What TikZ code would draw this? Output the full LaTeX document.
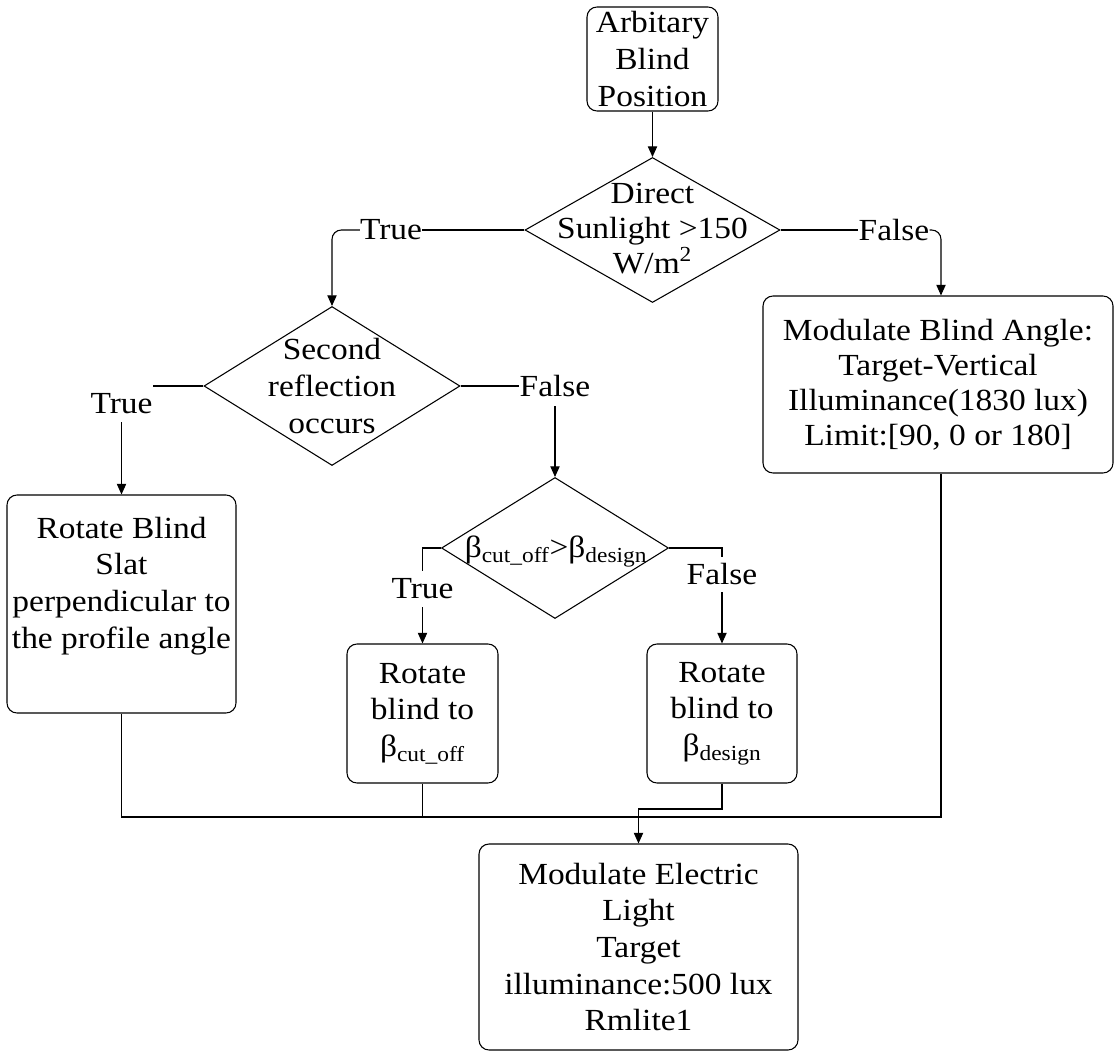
\documentclass[tikz,border=0pt]{standalone}
\usepackage{fontspec}
\setmainfont{Liberation Serif}[FakeStretch=1.09]
\usetikzlibrary{arrows.meta,shapes.geometric}
\begin{document}
\begin{tikzpicture}[x=0.75pt,y=-0.75pt,
  every node/.style={font=\fontsize{23}{27.5}\selectfont},
  box/.style={draw, line width=0.8pt, rounded corners=7.5pt, align=center, inner sep=0pt},
  dia/.style={draw, diamond, line width=0.8pt, inner sep=0pt},
  txt/.style={align=center, inner sep=0pt},
  lbl/.style={inner sep=0pt},
  conn/.style={line width=0.8pt},
  arr/.style={conn, -{Triangle[length=8pt,width=7pt]}},
]
\useasboundingbox (0,0) rectangle (1115,1052);

% boxes
\node[box, minimum width=98.25pt, minimum height=78pt, font=\fontsize{23}{28}\selectfont] (start) at (652.5,59) {Arbitary\\Blind\\Position};
\node[dia, minimum width=191.25pt, minimum height=108.75pt] (d1) at (652.5,230) {};
\node[txt, font=\fontsize{23}{26.25}\selectfont] (d1t) at (652.5,229) {Direct\\Sunlight >150\\W/m\textsuperscript{2}};
\node[dia, minimum width=192pt, minimum height=119.25pt] (d2) at (332,386) {};
\node[txt, font=\fontsize{23}{28}\selectfont] (d2t) at (332,386) {Second\\reflection\\occurs};
\node[dia, minimum width=170.25pt, minimum height=105.75pt] (d3) at (555,548) {};
\node[txt] (d3t) at (556,552) {β\textsubscript{cut\_off}>β\textsubscript{design}};
\node[box, minimum width=262.5pt, minimum height=132.75pt, font=\fontsize{23}{26.25}\selectfont] (rba) at (938,384.5) {Modulate Blind Angle:\\Target-Vertical\\Illuminance(1830 lux)\\Limit:[90, 0 or 180]};
\node[box, minimum width=171.75pt, minimum height=163.5pt] (rb) at (121.5,604) {Rotate Blind\\Slat\\perpendicular to\\the profile angle\rule[-32pt]{0pt}{0pt}};
\node[box, minimum width=113.25pt, minimum height=104.25pt] (rbc) at (422.5,713.5) {Rotate\\blind to\\β\textsubscript{cut\_off}};
\node[box, minimum width=112.5pt, minimum height=104.25pt] (rbd) at (722,713.5) {Rotate\\blind to\\β\textsubscript{design}};
\node[box, minimum width=239.25pt, minimum height=154.5pt] (mel) at (638.5,947) {Modulate Electric\\Light\\Target\\illuminance:500 lux\\Rmlite1};

% labels
\node[lbl] (lT1) at (391,230) {True};
\node[lbl] (lF1) at (894,230) {False};
\node[lbl, minimum height=27pt] (lT2) at (121.5,404) {True};
\node[lbl, minimum height=30pt] (lF2) at (555,386) {False};
\node[lbl, minimum height=27pt] (lT3) at (422.5,589) {True};
\node[lbl, minimum height=26.25pt] (lF3) at (722,574.5) {False};

% junction points
\coordinate (jL) at (121.5,817);
\coordinate (jM) at (422.5,817);
\coordinate (jR) at (941,817);
\coordinate (k1) at (722,809);
\coordinate (k2) at (638.5,809);

% connectors
\draw[arr] (start.south) -- (d1.north);
\draw[conn] (d1.west) -- (lT1.east);
\draw[arr, rounded corners=7pt] (lT1.west) -| (d2.north);
\draw[conn] (d1.east) -- (lF1.west);
\draw[arr, rounded corners=7pt] (lF1.east) -| (rba.north -| jR);
\draw[conn] (d2.west) -- (d2.west -| lT2.north east);
\draw[arr] (lT2.south) -- (rb.north);
\draw[conn] (d2.east) -- (lF2.west);
\draw[arr] (lF2.south) -- (d3.north);
\draw[conn] (d3.west) -| (lT3.north);
\draw[arr] (lT3.south) -- (rbc.north);
\draw[conn] (d3.east) -| (lF3.north);
\draw[arr] (lF3.south) -- (rbd.north);
\draw[conn] (rb.south) -- (jL) -- (jR) -- (rba.south -| jR);
\draw[conn] (rbc.south) -- (jM);
\draw[arr] (rbd.south) -- (k1) -- (k2) -- (mel.north);
\end{tikzpicture}
\end{document}
